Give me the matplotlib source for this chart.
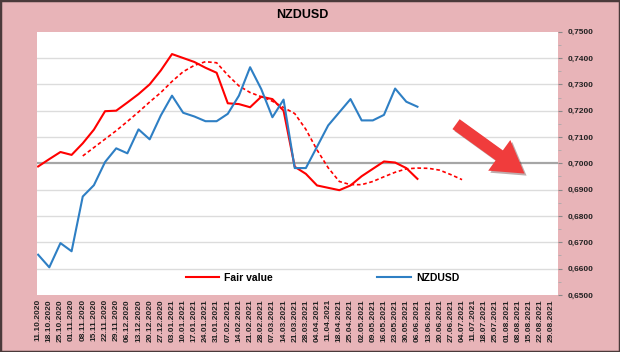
import numpy as np
import matplotlib.pyplot as plt
import matplotlib.patheffects as pe
from matplotlib.patches import Rectangle

# Haftalik tarihler (x ekseni)
tarihler = ['11.10.2020', '18.10.2020', '25.10.2020', '01.11.2020', '08.11.2020', '15.11.2020',
            '22.11.2020', '29.11.2020', '06.12.2020', '13.12.2020', '20.12.2020', '27.12.2020',
            '03.01.2021', '10.01.2021', '17.01.2021', '24.01.2021', '31.01.2021', '07.02.2021',
            '14.02.2021', '21.02.2021', '28.02.2021', '07.03.2021', '14.03.2021', '21.03.2021',
            '28.03.2021', '04.04.2021', '11.04.2021', '18.04.2021', '25.04.2021', '02.05.2021',
            '09.05.2021', '16.05.2021', '23.05.2021', '30.05.2021', '06.06.2021', '13.06.2021',
            '20.06.2021', '27.06.2021', '04.07.2021', '11.07.2021', '18.07.2021', '25.07.2021',
            '01.08.2021', '08.08.2021', '15.08.2021', '22.08.2021', '29.08.2021']

# NZDUSD kuru
nzdusd = [0.6653, 0.6605, 0.6697, 0.6666, 0.6874, 0.6917, 0.7005, 0.7057, 0.7038, 0.7129,
          0.7091, 0.7182, 0.7257, 0.7192, 0.7178, 0.7160, 0.7160, 0.7188, 0.7257, 0.7365,
          0.7282, 0.7175, 0.7242, 0.6982, 0.6982, 0.7063, 0.7144, 0.7194, 0.7244, 0.7163,
          0.7163, 0.7184, 0.7284, 0.7234, 0.7215]

# Fair value
fair_value = [0.6988, 0.7016, 0.7043, 0.7032, 0.7076, 0.7128, 0.7198, 0.7200, 0.7231, 0.7263,
              0.7300, 0.7353, 0.7415, 0.7400, 0.7385, 0.7363, 0.7344, 0.7228, 0.7225, 0.7213,
              0.7253, 0.7244, 0.7200, 0.6987, 0.6960, 0.6916, 0.6907, 0.6898, 0.6916, 0.6951,
              0.6979, 0.7007, 0.7003, 0.6982, 0.6941]

# Fair value ortalamasi (kesikli), 5. haftadan baslar
ortalama_baslangic = 4
fair_ortalama = [0.7028, 0.7060, 0.7092, 0.7124, 0.7159, 0.7195, 0.7233, 0.7269, 0.7311, 0.7348,
                 0.7372, 0.7386, 0.7382, 0.7335, 0.7294, 0.7269, 0.7253, 0.7236, 0.7212, 0.7189,
                 0.7129, 0.7051, 0.6983, 0.6931, 0.6919, 0.6919, 0.6931, 0.6949, 0.6966, 0.6979,
                 0.6982, 0.6981, 0.6974, 0.6957, 0.6938]

pembe = '#e8b4b8'
kirmizi = '#ff0000'
mavi = '#2e7fc4'
yazi = "Liberation Sans"

fig = plt.figure(figsize=(6.2, 3.52), dpi=100, facecolor=pembe)
ax = fig.add_axes([0.0597, 0.162, 0.8403, 0.748])
ax.set_facecolor('white')

x_fair = np.arange(len(fair_value))
x_nzd = np.arange(len(nzdusd))
x_ort = np.arange(len(fair_ortalama)) + ortalama_baslangic

ax.plot(x_fair, fair_value, color=kirmizi, lw=1.5, label='Fair value', zorder=3)
ax.plot(x_ort, fair_ortalama, color=kirmizi, lw=1.2, dashes=(2.2, 1.6), label='_nolegend_', zorder=3)
ax.plot(x_nzd, nzdusd, color=mavi, lw=1.5, label='NZDUSD', zorder=3)

ax.set_xlim(-0.1, 46.6)
ax.set_ylim(0.65, 0.75)

# Izgara
yticks = np.arange(0.65, 0.7501, 0.01)
for v in yticks[1:-1]:
    if abs(v - 0.70) < 1e-6:
        ax.axhline(v, color='#a6a6a6', lw=1.6, zorder=1)
    else:
        ax.axhline(v, color='#dcdcdc', lw=1.0, zorder=1)

for s in ax.spines.values():
    s.set_visible(False)

ax.yaxis.tick_right()
ax.set_yticks(yticks)
ax.set_yticks(np.arange(0.655, 0.75, 0.01), minor=True)
ax.set_yticklabels([f"{v:.4f}".replace('.', ',') for v in yticks],
                   fontsize=6, fontweight='bold', family=yazi, color='#222222')
ax.tick_params(axis='y', which='major', length=3, color='#888888', pad=4)
ax.tick_params(axis='y', which='minor', length=2, color='#aaaaaa')

ax.set_xticks(np.arange(len(tarihler)))
ax.set_xticklabels(tarihler, rotation=90, fontsize=6, fontweight='bold', family=yazi, color='#222222')
ax.tick_params(axis='x', length=0, pad=3)

leg = ax.legend(loc='center', bbox_to_anchor=(0.548, 0.064), ncol=2, frameon=False,
                columnspacing=10, handlelength=3.2, handletextpad=0.5,
                prop={'family': yazi, 'weight': 'bold', 'size': 7.5})

# Ok (asagi yonlu)
ax.annotate('', xy=(0.94, 0.455), xytext=(0.80, 0.655), xycoords='axes fraction',
            arrowprops=dict(arrowstyle='simple,head_width=1.7,head_length=1.4,tail_width=0.55',
                            mutation_scale=16, color='#f03c3c', lw=0,
                            path_effects=[pe.SimplePatchShadow(offset=(1.5, -1.5), alpha=0.35),
                                          pe.Normal()]),
            zorder=5)

fig.text(0.487, 0.957, 'NZDUSD', ha='center', va='center', fontsize=9, fontweight='bold', family=yazi)

fig.patches.append(Rectangle((0, 0), 1, 1, transform=fig.transFigure, fill=False,
                             edgecolor='#4a3a3a', lw=2.5))

fig.savefig('out.png', dpi=100, facecolor=pembe)
